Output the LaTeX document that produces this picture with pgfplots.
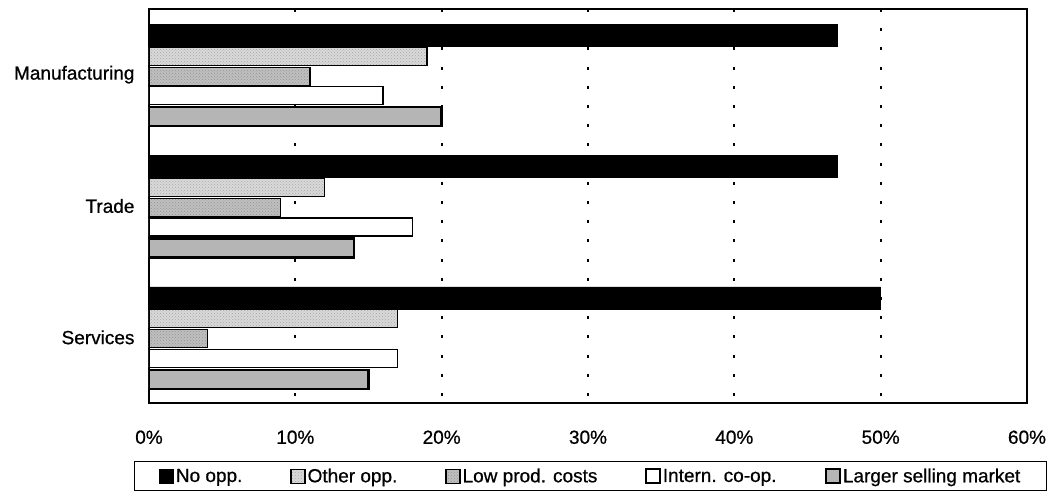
\documentclass[border=0pt]{standalone}
\usepackage{pgfplots}
\pgfplotsset{compat=1.18}
\usetikzlibrary{patterns}
\usepackage{fontspec}
\setmainfont{Liberation Sans}[FakeBold=0.7]

\begin{document}
\begin{tikzpicture}
% page frame: axis box spans 878pt x 394pt, labels and legend around it
\path[use as bounding box] (-149pt,-89pt) rectangle (910pt,403pt);
\begin{axis}[
  at={(0pt,0pt)}, anchor=south west,
  scale only axis, width=878pt, height=394pt,
  xbar,
  xmin=0, xmax=60,
  ymin=-0.5, ymax=2.5, y dir=reverse,
  ytick={0,1,2}, yticklabels={Manufacturing,Trade,Services},
  xtick={0,10,...,60},
  xticklabels={0\%,10\%,20\%,30\%,40\%,50\%,60\%},
  minor xtick={10,20,30,40,50},
  major tick length=0pt, minor tick length=0pt,
  xminorgrids,
  minor grid style={black, line width=1.8pt, dash pattern=on 3pt off 16.2pt},
  axis line style={line width=1.6pt},
  ticklabel style={font=\fontsize{19pt}{22pt}\selectfont},
  yticklabel style={xshift=-11pt},
  xticklabel style={yshift=-24pt},
  legend columns=5,
  legend cell align=left,
  legend style={at={(-0.017,-0.147)}, anchor=north west,
    draw=black, line width=1.2pt,
    font=\fontsize{19pt}{22pt}\selectfont,
    inner xsep=24pt, inner ysep=5pt,
    /tikz/every even column/.append style={column sep=46pt}},
  legend image code/.code={\draw[#1] (0pt,-7pt) rectangle (14pt,7pt);},
]
% y runs downward, so a negative shift moves a bar up within its group
\addplot[fill=black, draw=black, bar width=22pt, bar shift=39.5pt]
  coordinates {(47,0) (47,1) (50,2)};
\addlegendentry{No opp.}
\addplot[fill=gray!30, draw=black, line width=1.2pt, bar width=18pt, bar shift=18.5pt,
  postaction={pattern=crosshatch dots, pattern color=gray!70}]
  coordinates {(19,0) (12,1) (17,2)};
\addlegendentry{Other opp.}
\addplot[fill=gray!50, draw=black, line width=1.2pt, bar width=18pt, bar shift=-1.5pt,
  postaction={pattern=crosshatch dots, pattern color=gray!85}]
  coordinates {(11,0) (9,1) (4,2)};
\addlegendentry{Low prod. costs}
\addplot[fill=white, draw=black, line width=1.4pt, bar width=18pt, bar shift=-21pt]
  coordinates {(16,0) (18,1) (17,2)};
\addlegendentry{Intern. co-op.}
\addplot[fill=gray!58, draw=black, line width=2.4pt, bar width=19pt, bar shift=-42pt]
  coordinates {(20,0) (14,1) (15,2)};
\addlegendentry{Larger selling market}
\end{axis}
\end{tikzpicture}
\end{document}
